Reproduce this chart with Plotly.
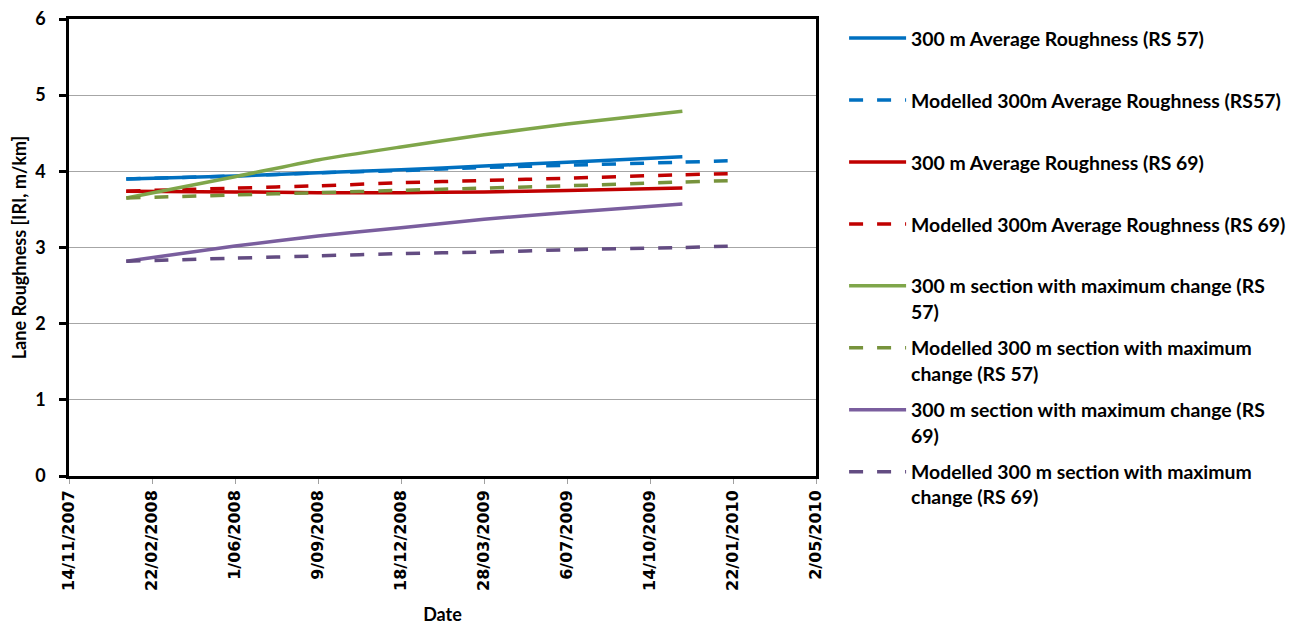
import plotly.graph_objects as go

# ---- data ----
measured_dates = ['2008-01-22', '2008-06-01', '2008-09-09', '2008-12-18',
                  '2009-03-28', '2009-07-06', '2009-11-22']
modelled_dates = ['2008-01-22', '2008-06-01', '2008-09-09', '2008-12-18',
                  '2009-03-28', '2009-07-06', '2009-11-22', '2010-01-22']

avg_rs57 = [3.90, 3.94, 3.98, 4.02, 4.07, 4.12, 4.19]
mod_avg_rs57 = [3.90, 3.94, 3.98, 4.01, 4.05, 4.08, 4.12, 4.14]
avg_rs69 = [3.74, 3.73, 3.72, 3.72, 3.73, 3.75, 3.78]
mod_avg_rs69 = [3.74, 3.78, 3.81, 3.85, 3.88, 3.91, 3.955, 3.97]
max_rs57 = [3.65, 3.93, 4.15, 4.32, 4.48, 4.62, 4.79]
mod_max_rs57 = [3.65, 3.69, 3.72, 3.75, 3.78, 3.81, 3.86, 3.88]
max_rs69 = [2.82, 3.02, 3.15, 3.26, 3.37, 3.46, 3.57]
mod_max_rs69 = [2.82, 2.86, 2.89, 2.92, 2.94, 2.97, 3.00, 3.02]

tick_dates = ['2007-11-14', '2008-02-22', '2008-06-01', '2008-09-09', '2008-12-18',
              '2009-03-28', '2009-07-06', '2009-10-14', '2010-01-22', '2010-05-02']
tick_labels = ['14/11/2007', '22/02/2008', '1/06/2008', '9/09/2008', '18/12/2008',
               '28/03/2009', '6/07/2009', '14/10/2009', '22/01/2010', '2/05/2010']

series = [
    ('300 m Average Roughness (RS 57)<br> ', measured_dates, avg_rs57, '#0070C0', 'solid'),
    ('Modelled 300m Average Roughness (RS57)<br> ', modelled_dates, mod_avg_rs57, '#0070C0', 'dash'),
    ('300 m Average Roughness (RS 69)<br> ', measured_dates, avg_rs69, '#C00000', 'solid'),
    ('Modelled 300m Average Roughness (RS 69)<br> ', modelled_dates, mod_avg_rs69, '#C00000', 'dash'),
    ('300 m section with maximum change (RS<br>57)', measured_dates, max_rs57, '#7FA64A', 'solid'),
    ('Modelled 300 m section with maximum<br>change (RS 57)', modelled_dates, mod_max_rs57, '#77933C', 'dash'),
    ('300 m section with maximum change (RS<br>69)', measured_dates, max_rs69, '#7A5E9E', 'solid'),
    ('Modelled 300 m section with maximum<br>change (RS 69)', modelled_dates, mod_max_rs69, '#634C82', 'dash'),
]

fig = go.Figure()
for i, (name, xs, ys, color, dash) in enumerate(series):
    fig.add_trace(go.Scatter(
        x=xs, y=ys, name=name, mode='lines', legendgroup=f'g{i}',
        line=dict(color=color, width=3.5, shape='spline', smoothing=0.6,
                  dash='14px,14px' if dash == 'dash' else 'solid'),
    ))

fig.update_layout(
    width=1304, height=625,
    margin=dict(l=69, r=488, t=19, b=149),
    paper_bgcolor='white', plot_bgcolor='white',
    font=dict(family='Lato', size=15, color='black', weight='bold'),
    legend=dict(
        x=1.0376, y=1.0, xanchor='left', yanchor='top',
        font=dict(family='Lato', size=19.4, color='black', weight='bold'),
        valign='top', tracegroupgap=8.5, itemwidth=57, maxheight=620,
        bgcolor='rgba(0,0,0,0)', borderwidth=0,
    ),
    showlegend=True,
)

fig.update_xaxes(
    type='date', range=['2007-11-14', '2010-05-02'], automargin=False,
    tickvals=tick_dates, ticktext=tick_labels, tickangle=-90,
    tickfont=dict(family='DejaVu Sans', size=16, color='black', weight='bold'),
    ticks='outside', ticklen=5, tickcolor='#A0A0A0', tickwidth=1,
    showgrid=False, zeroline=False,
    showline=True, linecolor='black', linewidth=2.5, mirror=True,
    title=dict(text='Date', font=dict(family='Lato', size=18, weight='bold'), standoff=20),
)
fig.update_yaxes(
    range=[0, 6], dtick=1, tick0=0, automargin=False,
    tickfont=dict(family='Lato', size=18, color='black', weight='bold'),
    ticks='outside', ticklen=7, tickcolor='black', tickwidth=2.5, ticklabelstandoff=10,
    showgrid=True, gridcolor='#A6A6A6', gridwidth=1, zeroline=False,
    showline=True, linecolor='black', linewidth=2.5, mirror=True,
    title=dict(text='Lane Roughness [IRI, m/km]', font=dict(family='Lato', size=18, weight='bold'), standoff=4),
)

fig.write_html('out.html')
